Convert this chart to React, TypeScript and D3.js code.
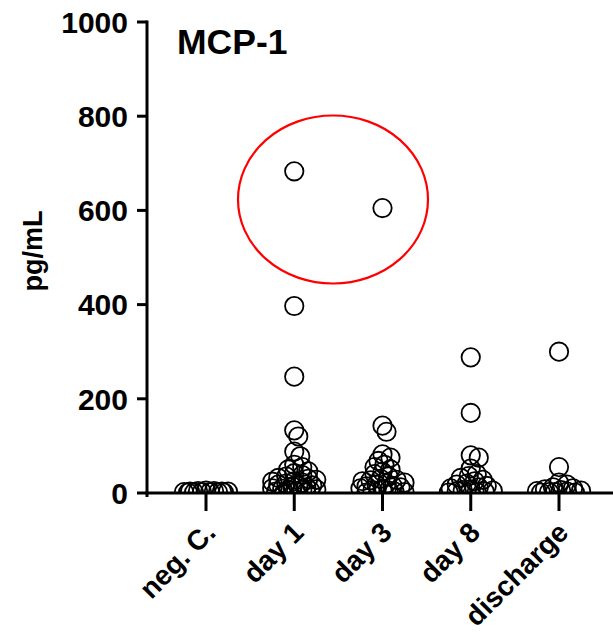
import React from "react";
import * as d3 from "d3";

const categories = ["neg. C.", "day 1", "day 3", "day 8", "discharge"];
const negC = [2, 3, 1, 4, 2, 5, 3, 2, 1, 3, 2, 4, 1];
const day1 = [683, 397, 247, 133, 120, 88, 78, 60, 55, 50, 46, 42, 38, 35, 32, 30, 28, 25, 22, 20, 18, 16, 15, 12, 10, 9, 8, 6, 5, 4, 3, 2, 1, 24, 14, 7];
const day3 = [605, 143, 130, 82, 75, 68, 60, 55, 50, 45, 40, 35, 30, 27, 25, 22, 20, 18, 15, 12, 10, 8, 6, 5, 3, 2, 1, 14, 28];
const day8 = [288, 170, 80, 75, 52, 40, 36, 32, 28, 25, 20, 18, 15, 12, 10, 8, 6, 5, 3, 2, 1, 4];
const discharge = [300, 55, 22, 18, 12, 10, 8, 6, 5, 4, 3, 2, 2, 1, 1];
const seriesValues = [negC, day1, day3, day8, discharge];
const yTicks = [0, 200, 400, 600, 800, 1000];
const title = "MCP-1";
const yLabel = "pg/mL";

const W = 613, H = 637;
const left = 147, right = 613, top = 22, bottom = 493;
const R = 9.2;

function swarm(values: number[], y: (v: number) => number, maxHalf: number) {
  const sorted = [...values].sort((a, b) => b - a);
  const placed: { dx: number; cy: number; v: number }[] = [];
  const minDist = 7;
  for (const v of sorted) {
    const cy = y(v);
    let best = 0, bestScore = -Infinity;
    const cands: number[] = [0];
    for (let o = 2; o <= maxHalf; o += 2) { cands.push(o, -o); }
    let chosen: number | null = null;
    for (const c of cands) {
      let md = Infinity;
      for (const p of placed) {
        const d = Math.hypot(p.dx - c, p.cy - cy);
        if (d < md) md = d;
      }
      if (md >= minDist) { chosen = c; break; }
      if (md > bestScore) { bestScore = md; best = c; }
    }
    placed.push({ dx: chosen === null ? best : chosen, cy, v });
  }
  return placed;
}

export default function App() {
  const y = d3.scaleLinear().domain([0, 1000]).range([bottom, top]);
  const x = d3.scalePoint<string>().domain(categories).range([206, 559]);
  const font = "'Liberation Sans', Arial, sans-serif";
  return (
    <svg width={W} height={H} style={{ position: "absolute", left: 0, top: 0, background: "#fff" }}>
      <defs>
        <clipPath id="plotclip">
          <rect x={left} y={0} width={right - left} height={bottom} />
        </clipPath>
      </defs>
      <g clipPath="url(#plotclip)">
        {seriesValues.map((vals, i) => {
          const cx = x(categories[i])!;
          return swarm(vals, y, 22).map((p, j) => (
            <circle key={i + "-" + j} cx={cx + p.dx} cy={p.cy} r={R} fill="none" stroke="#000" strokeWidth={1.8} />
          ));
        })}
      </g>
      <line x1={left} x2={left} y1={top - 1.5} y2={bottom + 4} stroke="#000" strokeWidth={3} />
      <line x1={left - 1.5} x2={right} y1={bottom} y2={bottom} stroke="#000" strokeWidth={3} />
      {yTicks.map((t) => (
        <g key={t}>
          <line x1={137} x2={left} y1={y(t)} y2={y(t)} stroke="#000" strokeWidth={3} />
          <text x={128} y={y(t)} dy="0.36em" textAnchor="end" fontFamily={font} fontWeight="bold" fontSize={30}>{t}</text>
        </g>
      ))}
      {categories.map((c) => (
        <g key={c}>
          <line x1={x(c)} x2={x(c)} y1={bottom} y2={511} stroke="#000" strokeWidth={3} />
          <text transform={`translate(${x(c)! + 4},${527}) rotate(-45)`} textAnchor="end" dy="0.36em" fontFamily={font} fontWeight="bold" fontSize={28}>{c}</text>
        </g>
      ))}
      <text x={177} y={54} fontFamily={font} fontWeight="bold" fontSize={35.5}>{title}</text>
      <text transform={`translate(42,251) rotate(-90)`} textAnchor="middle" fontFamily={font} fontWeight="bold" fontSize={27}>{yLabel}</text>
      <ellipse cx={333} cy={199.5} rx={95} ry={84} fill="none" stroke="#f00" strokeWidth={2.2} />
    </svg>
  );
}
